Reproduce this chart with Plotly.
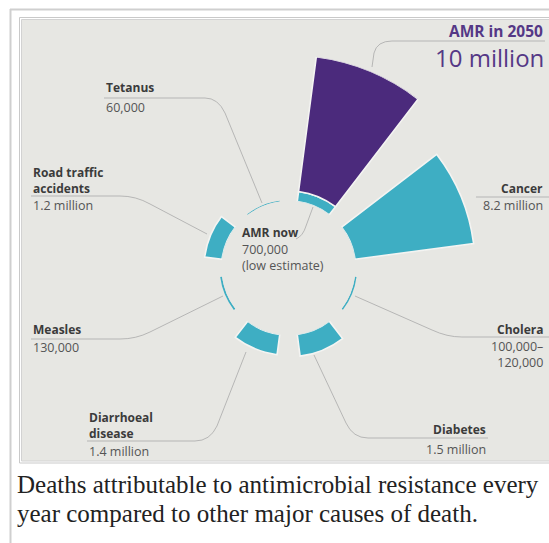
import plotly.graph_objects as go

# ---------------- data ----------------
categories = ["AMR", "Cancer", "Cholera", "Diabetes", "Diarrhoeal disease",
              "Measles", "Road traffic accidents", "Tetanus"]
deaths_millions = [0.7, 8.2, 0.11, 1.5, 1.4, 0.13, 1.2, 0.06]
amr_2050_millions = 10.0

label_names = ["AMR now", "Cancer", "Cholera", "Diabetes", "Diarrhoeal<br>disease",
               "Measles", "Road traffic<br>accidents", "Tetanus"]
label_values = ["700,000<br>(low estimate)", "8.2 million", "100,000–<br>120,000",
                "1.5 million", "1.4 million", "130,000", "1.2 million", "60,000"]
amr_2050_title = "AMR in 2050"
amr_2050_text = "10 million"
caption_lines = ["Deaths attributable to antimicrobial resistance every",
                 "year compared to other major causes of death."]

# ---------------- styling ----------------
W, H = 549, 543
TEAL = "#3eaec3"
PURPLE = "#4b2a7c"
PANEL = "#e7e7e3"
LEAD = "#a9a9a9"
NAME_C = "#3b3b3b"
VAL_C = "#555555"
FONT = "Open Sans"

def px(x):
    return x / W

def py(y):
    return 1 - y / H

def P(x, y):
    return f"{px(x):.5f},{py(y):.5f}"

cx, cy = 288.5, 268        # centre of the rose (pixels)
R_hole = 67
R_outer = 213

fig = go.Figure()

line_w = [0 if v < 0.3 else 1.6 for v in deaths_millions]
fig.add_trace(go.Barpolar(
    theta=categories, r=deaths_millions,
    marker=dict(color=TEAL, line=dict(color="#f4f4f2", width=line_w)),
    hoverinfo="theta+r", name="now"))
fig.add_trace(go.Barpolar(
    theta=[categories[0]], r=[amr_2050_millions - deaths_millions[0]],
    marker=dict(color=PURPLE, line=dict(color="#f4f4f2", width=1.6)),
    hoverinfo="theta", name="2050"))

fig.update_layout(
    width=W, height=H,
    margin=dict(l=0, r=0, t=0, b=0),
    paper_bgcolor="white",
    showlegend=False,
    polar=dict(
        domain=dict(x=[px(cx - R_outer), px(cx + R_outer)],
                    y=[1 - (cy + R_outer) / H, 1 - (cy - R_outer) / H]),
        hole=R_hole / R_outer,
        bgcolor="rgba(0,0,0,0)",
        barmode="stack",
        bargap=1 - 30 / 45,
        radialaxis=dict(range=[0, amr_2050_millions], visible=False),
        angularaxis=dict(type="category", rotation=67.5, direction="clockwise",
                         visible=False, showgrid=False),
    ),
)

shapes = []
# frame
shapes.append(dict(type="line", xref="paper", yref="paper", x0=px(10.5), x1=px(10.5),
                   y0=py(9), y1=py(543), line=dict(color="#cfcfcf", width=2), layer="below"))
shapes.append(dict(type="line", xref="paper", yref="paper", x0=px(10), x1=px(549),
                   y0=py(9.5), y1=py(9.5), line=dict(color="#cfcfcf", width=2), layer="below"))
shapes.append(dict(type="rect", xref="paper", yref="paper", x0=px(19.5), x1=px(552),
                   y0=py(17.5), y1=py(463), line=dict(color="#c9c9c9", width=1),
                   fillcolor="white", layer="below"))
shapes.append(dict(type="rect", xref="paper", yref="paper", x0=px(21.5), x1=px(552),
                   y0=py(19.5), y1=py(461), line=dict(color="#d2d2d2", width=1),
                   fillcolor=PANEL, layer="below"))

# leader lines
paths = [
    f"M{P(545,41)} L{P(392,41)} Q{P(377,41)} {P(374,53)} L{P(372,67)}",   # AMR 2050
    f"M{P(104,98)} L{P(205,98)} Q{P(218,98)} {P(225,113)} L{P(262,203)}",  # Tetanus
    f"M{P(31,196)} L{P(120,196)} Q{P(136,196)} {P(150,204)} L{P(207,234)}",  # Road
    f"M{P(31,339)} L{P(120,339)} Q{P(136,339)} {P(150,332)} L{P(223,296)}",  # Measles
    f"M{P(549,337)} L{P(462,337)} Q{P(447,337)} {P(432,330)} L{P(355,296)}",  # Cholera
    f"M{P(549,197)} L{P(476,197)}",  # Cancer
    f"M{P(296,239)} Q{P(303,236)} {P(306,226)} L{P(313,207)}",  # AMR now
    f"M{P(87,441)} L{P(195,441)} Q{P(210,441)} {P(217,426)} L{P(246,352)}",  # Diarrhoeal
    f"M{P(488,438)} L{P(368,438)} Q{P(353,438)} {P(346,423)} L{P(314,355)}",  # Diabetes
]
for p in paths:
    shapes.append(dict(type="path", xref="paper", yref="paper", path=p,
                       line=dict(color=LEAD, width=0.8)))
fig.update_layout(shapes=shapes)

ann = []
def add(text, x, y, anchor, size=11, color=VAL_C, bold=False, family=FONT):
    t = f"<b>{text}</b>" if bold else text
    ann.append(dict(text=t, x=px(x), y=py(y), xref="paper", yref="paper",
                    xanchor=anchor, yanchor="middle", showarrow=False,
                    align="right" if anchor == "right" else "left",
                    font=dict(family=family, size=size, color=color)))

# AMR 2050
add(amr_2050_title, 545, 31, "right", 15.5, "#553886", True)
add(amr_2050_text, 546, 58, "right", 24, "#553886")

# label positions (x, name centre y, value centre y, anchor)
lab_pos = {
    "AMR": (240, 232, 257, "left"),
    "Cancer": (545, 188, 205, "right"),
    "Cholera": (545, 329, 354, "right"),
    "Diabetes": (488, 429, 449, "right"),
    "Diarrhoeal disease": (87, 425, 451, "left"),
    "Measles": (31, 329, 347, "left"),
    "Road traffic accidents": (31, 180, 205, "left"),
    "Tetanus": (104, 87, 107, "left"),
}
for cat, name, val in zip(categories, label_names, label_values):
    x, yn, yv, anc = lab_pos[cat]
    add(name, x, yn, anc, 12, NAME_C, True)
    add(val, x, yv, anc, 12.5, VAL_C)

# caption
for i, line in enumerate(caption_lines):
    ann.append(dict(text=line, x=px(15), y=py(484 + 29 * i), xref="paper", yref="paper",
                    xanchor="left", yanchor="middle", showarrow=False,
                    font=dict(family="Liberation Serif", size=25, color="#222222")))

fig.update_layout(annotations=ann)
fig.write_html("out.html")
